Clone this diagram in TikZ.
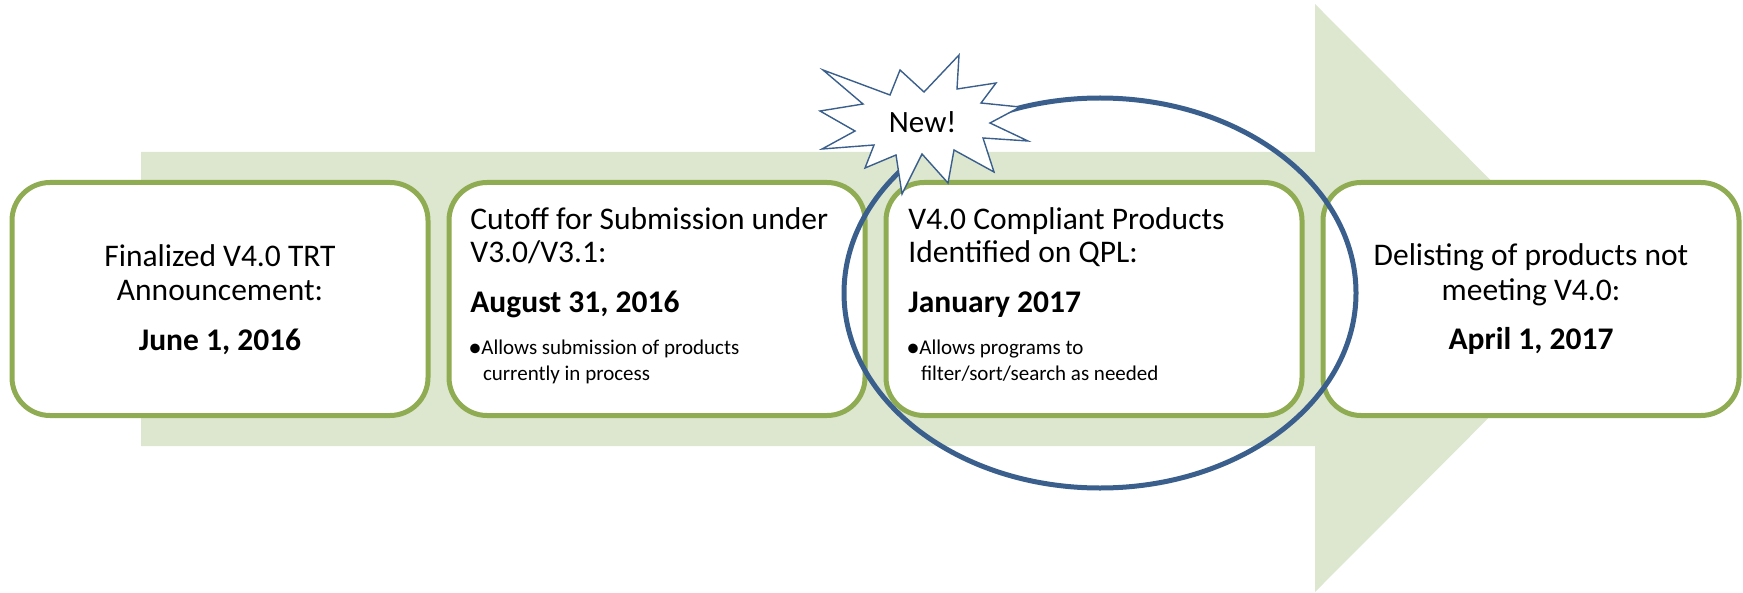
\documentclass[tikz,border=0pt]{standalone}
\usepackage{fontspec}
\setmainfont{Carlito}
\definecolor{arrowfill}{RGB}{221,231,208}
\definecolor{boxgreen}{RGB}{143,172,82}
\definecolor{ringblue}{RGB}{58,95,140}
\begin{document}
\begin{tikzpicture}[x=0.5pt,y=-0.5pt,
  box/.style={draw=boxgreen, line width=2.5pt, fill=white, rounded corners=19pt,
              minimum width=208pt, minimum height=116.5pt, inner sep=0pt},
  big/.style={font=\fontsize{15.75}{17}\selectfont, inner sep=0pt},
  bigb/.style={font=\fontsize{15.75}{17}\selectfont\bfseries, inner sep=0pt},
  small/.style={font=\fontsize{10.5}{12}\selectfont, inner sep=0pt},
  bul/.style={font=\fontsize{13.5}{15}\selectfont, inner sep=0pt},
  burst/.style={draw=ringblue, line width=0.7pt, fill=white, line join=miter},
  ring/.style={draw=ringblue, line width=2.5pt},
]
\useasboundingbox (0,0) rectangle (1743,593);
% big arrow
\fill[arrowfill] (141,152) -- (1315,152) -- (1315,4) -- (1608,298) -- (1315,592)
  -- (1315,446) -- (141,446) -- cycle;
% boxes
\node[box] (b1) at (220,299) {};
\node[box] (b2) at (657,299) {};
\node[box] (b3) at (1094,299) {};
\node[box] (b4) at (1531,299) {};
% box 1 text
\node[big, anchor=base] (t1a) at (220,266) {Finalized V4.0 TRT};
\node[big, anchor=base] (t1b) at (220,300.7) {Announcement:};
\node[bigb, anchor=base] (t1c) at (220,350) {June 1, 2016};
% box 2 text
\node[big, anchor=base west] (t2a) at (470,229) {Cutoff for Submission under};
\node[big, anchor=base west] (t2b) at (470,263) {V3.0/V3.1:};
\node[bigb, anchor=base west] (t2c) at (470,312) {August 31, 2016};
\node[bul, anchor=base west] (t2d) at (468,356.5) {•};
\node[small, anchor=base west] (t2e) at (481,354.5) {Allows submission of products};
\node[small, anchor=base west] (t2f) at (482.6,380) {currently in process};
% box 3 text
\node[big, anchor=base west] (t3a) at (908,229) {V4.0 Compliant Products};
\node[big, anchor=base west] (t3b) at (908,263) {Identified on QPL:};
\node[bigb, anchor=base west] (t3c) at (908,312) {January 2017};
\node[bul, anchor=base west] (t3d) at (906,356.5) {•};
\node[small, anchor=base west] (t3e) at (919,354.5) {Allows programs to};
\node[small, anchor=base west] (t3f) at (920.6,380) {filter/sort/search as needed};
% box 4 text
\node[big, anchor=base] (t4a) at (1531,265) {Delisting of products not};
\node[big, anchor=base] (t4b) at (1531,300) {meeting V4.0:};
\node[bigb, anchor=base] (t4c) at (1531,349) {April 1, 2017};
% ellipse
\draw[ring] (1100,293) ellipse [x radius=128pt, y radius=97.5pt];
% starburst
\draw[burst] (823,70) -- (890,95) -- (900,70) -- (924,92) -- (959,55) -- (957,89)
  -- (996,83) -- (981,103) -- (1020,107) -- (990,123) -- (1028,141) -- (983,138)
  -- (994,172) -- (954,150) -- (948,183) -- (922,154) -- (902,194) -- (896,155)
  -- (865,168) -- (874,145) -- (822,149) -- (855,131) -- (820,111) -- (863,104) -- cycle;
\node[font=\fontsize{15.5}{17}\selectfont, inner sep=0pt, anchor=base] (new) at (922.7,132.7) {New!};
\end{tikzpicture}
\end{document}
